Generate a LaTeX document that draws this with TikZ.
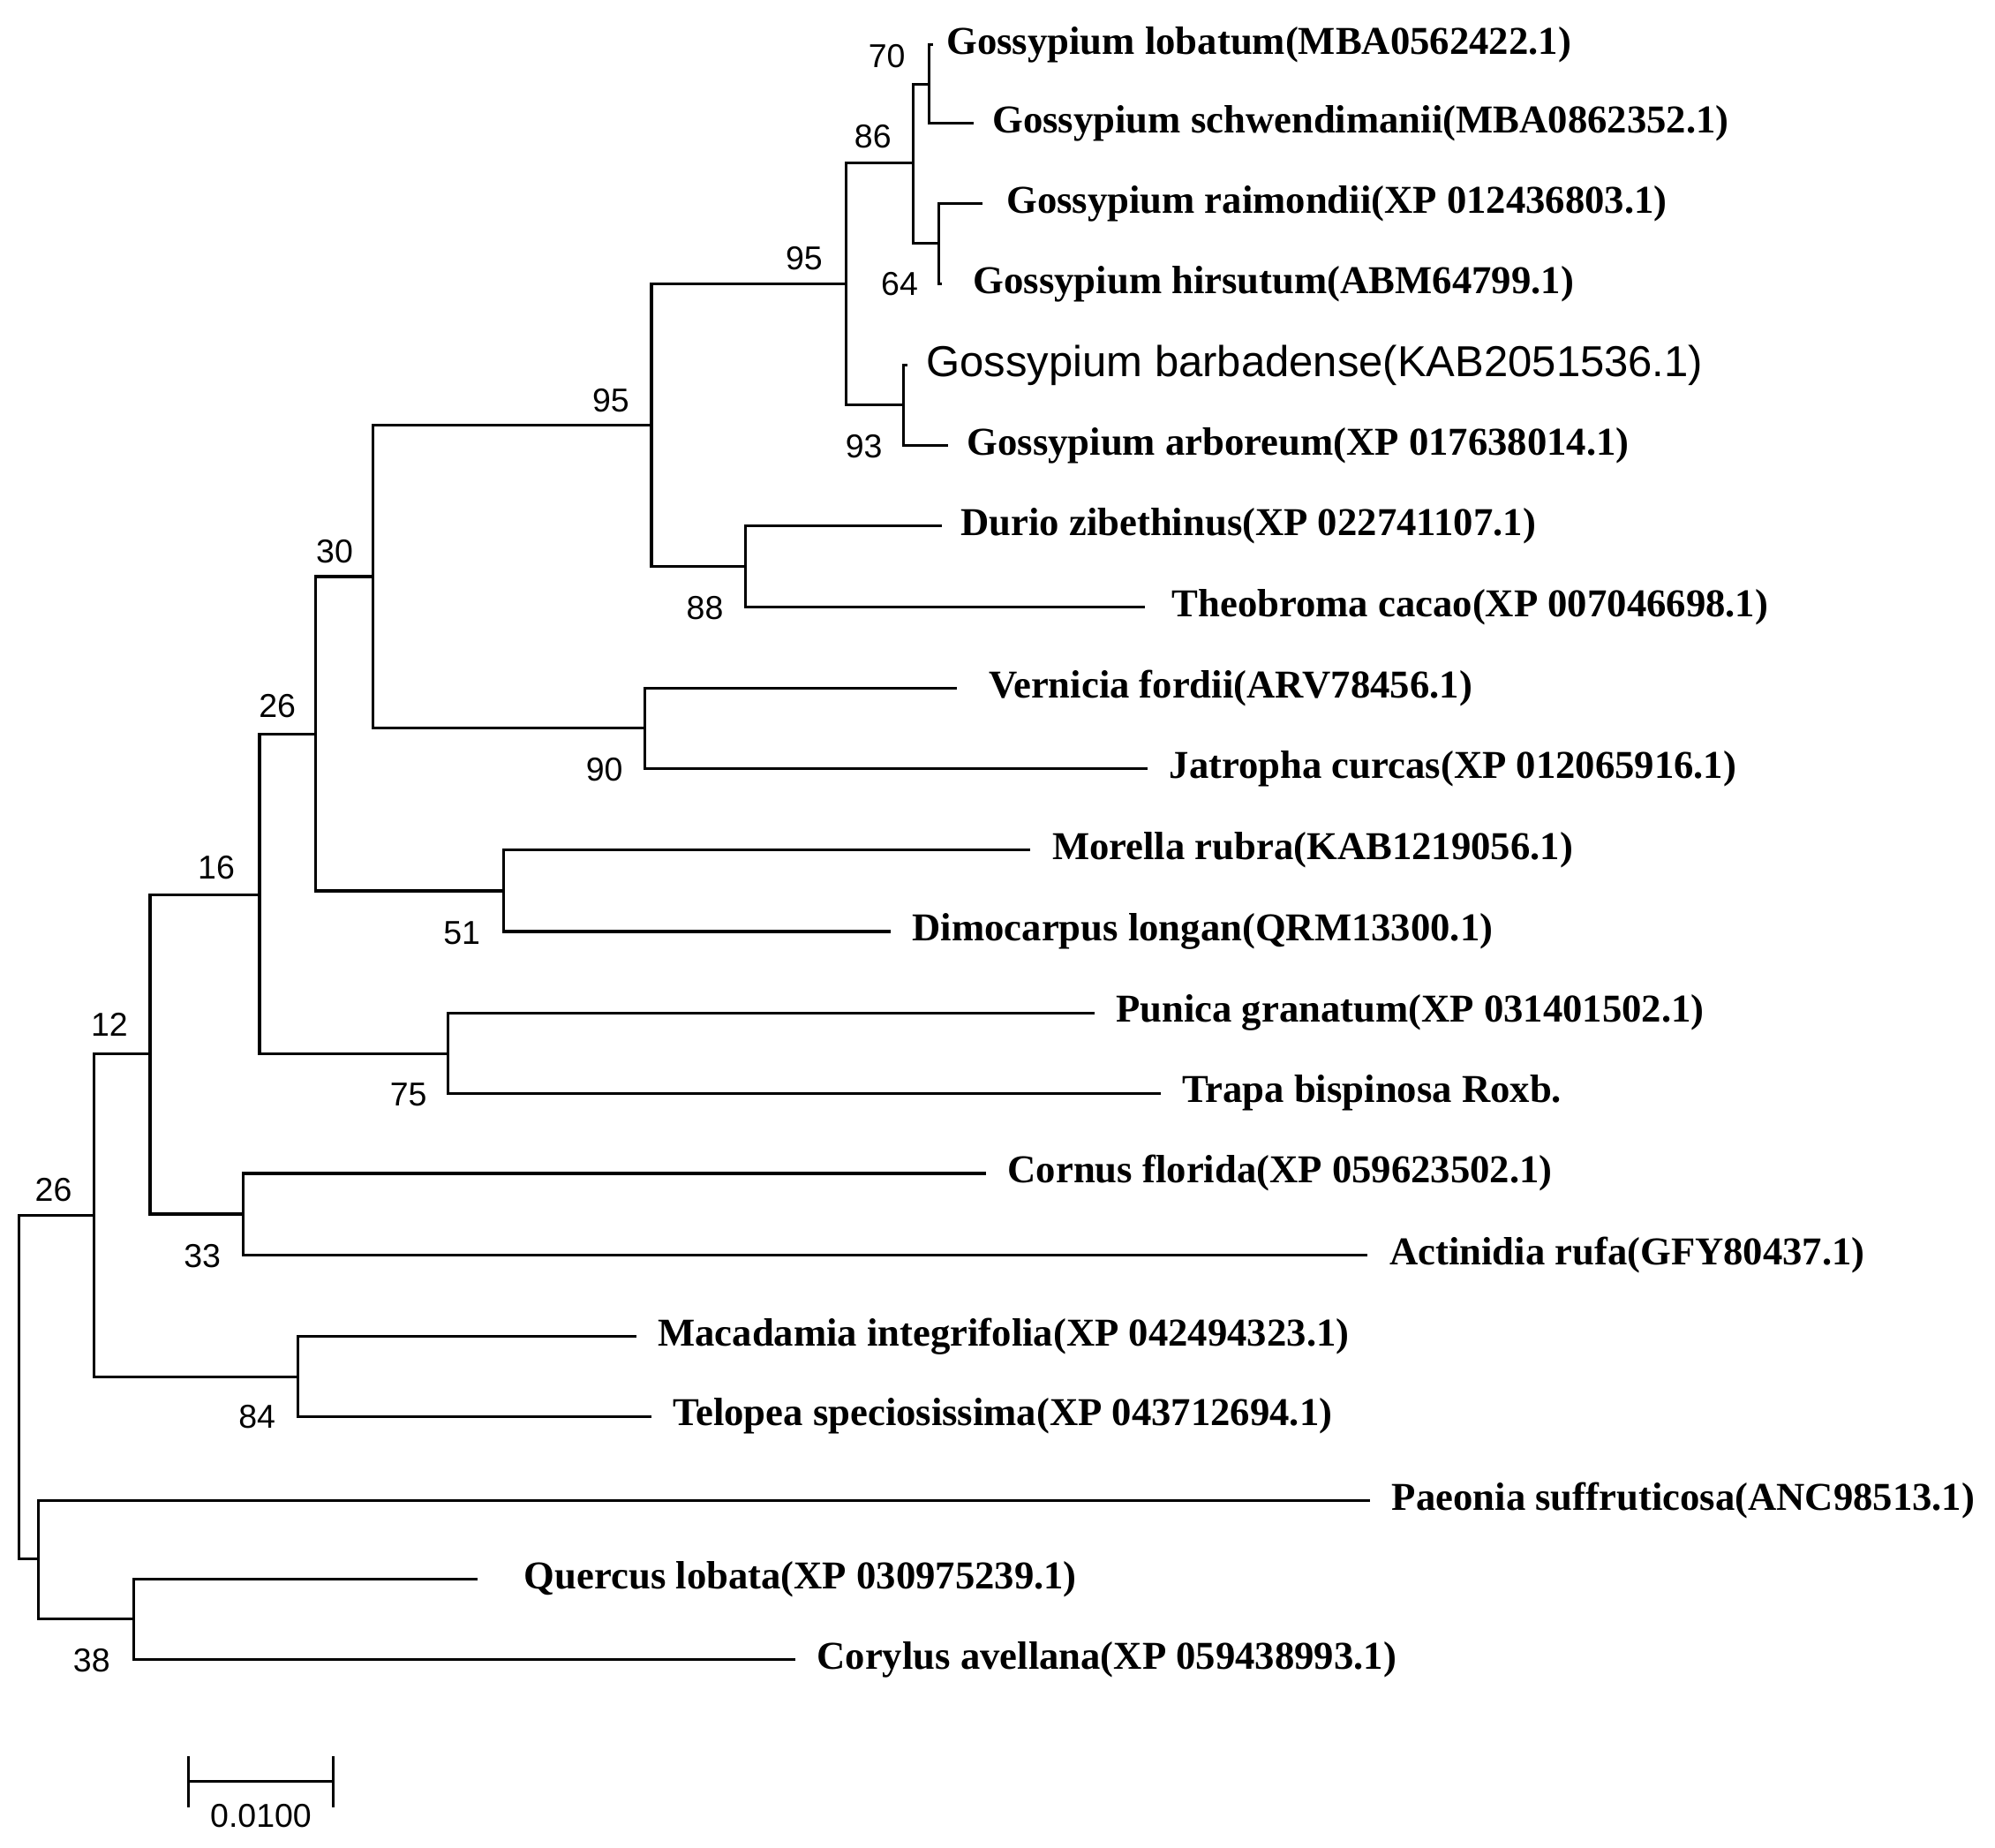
\documentclass[tikz,border=0pt]{standalone}
\usepackage{fontspec}
\setmainfont{Liberation Serif}
\newfontfamily\numfont{Liberation Sans}
\begin{document}
\begin{tikzpicture}[x=0.5pt,y=-0.5pt,line width=1.1pt,
  leaf/.style={anchor=west,inner sep=0pt,font=\fontsize{15.5}{16}\selectfont\bfseries},
  bs/.style={inner sep=0pt,font=\numfont\fontsize{13}{14}\selectfont},
  br/.style={draw=black}]
\useasboundingbox (0,0) rectangle (1568,1452);
% leaves (tips)
\coordinate (Lob) at (733,35); \coordinate (Sch) at (765,97);
\coordinate (Rai) at (772,160); \coordinate (Hir) at (740,223);
\coordinate (Bar) at (713,287); \coordinate (Arb) at (745,350);
\coordinate (Dur) at (740,413); \coordinate (The) at (900,477);
\coordinate (Ver) at (752,541); \coordinate (Jat) at (902,604);
\coordinate (Mor) at (810,668); \coordinate (Dim) at (700,732);
\coordinate (Pun) at (860,796); \coordinate (Tra) at (912,859);
\coordinate (Cor) at (775,922); \coordinate (Act) at (1075,986);
\coordinate (Mac) at (500,1050); \coordinate (Tel) at (512,1113);
\coordinate (Pae) at (1077,1179); \coordinate (Que) at (375,1241);
\coordinate (Cyl) at (625,1304);
% internal nodes
\coordinate (n70) at (730,66); \coordinate (n64) at (738,191);
\coordinate (n86) at (718,128); \coordinate (n93) at (710,318);
\coordinate (n95a) at (665,223); \coordinate (n88) at (586,445);
\coordinate (n95b) at (512,334); \coordinate (n90) at (507,572);
\coordinate (n30) at (293,453); \coordinate (n51) at (396,700);
\coordinate (n26a) at (248,577); \coordinate (n75) at (352,828);
\coordinate (n16) at (204,703); \coordinate (n33) at (191,954);
\coordinate (n12) at (118,828); \coordinate (n84) at (234,1082);
\coordinate (n26b) at (74,955); \coordinate (n38) at (105,1272);
\coordinate (nPQ) at (30,1225); \coordinate (root) at (15,1090);
% branches
\foreach \p/\c in {n70/Lob,n70/Sch,n64/Rai,n64/Hir,n86/n70,n86/n64,n93/Bar,n93/Arb,
  n95a/n86,n95a/n93,n88/Dur,n88/The,n95b/n95a,n95b/n88,n90/Ver,n90/Jat,n30/n95b,n30/n90,
  n51/Mor,n51/Dim,n26a/n30,n26a/n51,n75/Pun,n75/Tra,n16/n26a,n16/n75,n33/Cor,n33/Act,
  n12/n16,n12/n33,n84/Mac,n84/Tel,n26b/n12,n26b/n84,n38/Que,n38/Cyl,nPQ/Pae,nPQ/n38,
  root/n26b,root/nPQ}
  \draw[br] (\p) |- (\c);
% leaf labels
\node[leaf] (tLob) at ([xshift=5]Lob) {Gossypium lobatum(MBA0562422.1)};
\node[leaf] (tSch) at ([xshift=7]Sch) {Gossypium schwendimanii(MBA0862352.1)};
\node[leaf] (tRai) at ([xshift=9]Rai) {Gossypium raimondii(XP 012436803.1)};
\node[leaf] (tHir) at ([xshift=12]Hir) {Gossypium hirsutum(ABM64799.1)};
\node[leaf,font=\numfont\fontsize{17}{18}\selectfont] (tBar) at ([xshift=7]Bar) {Gossypium barbadense(KAB2051536.1)};
\node[leaf] (tArb) at ([xshift=7]Arb) {Gossypium arboreum(XP 017638014.1)};
\node[leaf] (tDur) at ([xshift=7]Dur) {Durio zibethinus(XP 022741107.1)};
\node[leaf] (tThe) at ([xshift=10]The) {Theobroma cacao(XP 007046698.1)};
\node[leaf] (tVer) at ([xshift=12]Ver) {Vernicia fordii(ARV78456.1)};
\node[leaf] (tJat) at ([xshift=8]Jat) {Jatropha curcas(XP 012065916.1)};
\node[leaf] (tMor) at ([xshift=8]Mor) {Morella rubra(KAB1219056.1)};
\node[leaf] (tDim) at ([xshift=8]Dim) {Dimocarpus longan(QRM13300.1)};
\node[leaf] (tPun) at ([xshift=8]Pun) {Punica granatum(XP 031401502.1)};
\node[leaf] (tTra) at ([xshift=8]Tra) {Trapa bispinosa Roxb.};
\node[leaf] (tCor) at ([xshift=8]Cor) {Cornus florida(XP 059623502.1)};
\node[leaf] (tAct) at ([xshift=8]Act) {Actinidia rufa(GFY80437.1)};
\node[leaf] (tMac) at ([xshift=8]Mac) {Macadamia integrifolia(XP 042494323.1)};
\node[leaf] (tTel) at ([xshift=8]Tel) {Telopea speciosissima(XP 043712694.1)};
\node[leaf] (tPae) at ([xshift=8]Pae) {Paeonia suffruticosa(ANC98513.1)};
\node[leaf] (tQue) at ([xshift=18]Que) {Quercus lobata(XP 030975239.1)};
\node[leaf] (tCyl) at ([xshift=8]Cyl) {Corylus avellana(XP 059438993.1)};
% bootstrap values
\node[bs] (b70) at (697,44) {70};
\node[bs] (b64) at (707,223) {64};
\node[bs] (b86) at (686,107) {86};
\node[bs] (b93) at (679,351) {93};
\node[bs] (b95a) at (632,203) {95};
\node[bs] (b88) at (554,478) {88};
\node[bs] (b95b) at (480,315) {95};
\node[bs] (b90) at (475,605) {90};
\node[bs] (b30) at (263,433) {30};
\node[bs] (b51) at (363,733) {51};
\node[bs] (b26a) at (218,555) {26};
\node[bs] (b75) at (321,860) {75};
\node[bs] (b16) at (170,682) {16};
\node[bs] (b33) at (159,987) {33};
\node[bs] (b12) at (86,805) {12};
\node[bs] (b84) at (202,1113) {84};
\node[bs] (b26b) at (42,935) {26};
\node[bs] (b38) at (72,1305) {38};
% scale bar
\coordinate (s1) at (148,1400); \coordinate (s2) at (262,1400);
\draw[br] (s1) -- (s2);
\draw[br] ([yshift=-10]s1) -- ([yshift=10]s1);
\draw[br] ([yshift=-10]s2) -- ([yshift=10]s2);
\node[bs] (sl) at (205,1427) {0.0100};
\end{tikzpicture}
\end{document}
